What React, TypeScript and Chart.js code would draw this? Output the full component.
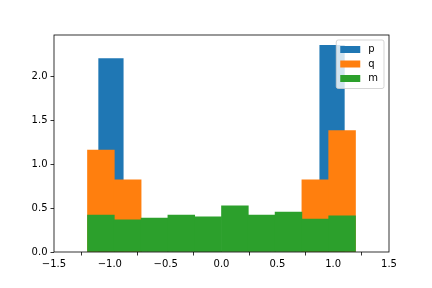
import React, { useEffect, useRef } from "react";
import { Chart, registerables } from "chart.js";

Chart.register(...registerables);

const seriesLabels = ["p", "q", "m"];
const seriesColors = ["#1f77b4", "#ff7f0e", "#2ca02c"];

// histogram bin centres (p: 10 bins over [-1.1, 1.1]; q & m: 10 bins over [-1.2, 1.2])
const pBinCenters = [-0.99, -0.77, -0.55, -0.33, -0.11, 0.11, 0.33, 0.55, 0.77, 0.99];
const qmBinCenters = [-1.08, -0.84, -0.6, -0.36, -0.12, 0.12, 0.36, 0.6, 0.84, 1.08];

// densities
const pDensity = [2.2, 0, 0, 0, 0, 0, 0, 0, 0, 2.35];
const qDensity = [1.16, 0.82, 0, 0, 0, 0, 0, 0, 0.82, 1.38];
const mDensity = [0.42, 0.365, 0.385, 0.42, 0.4, 0.525, 0.42, 0.455, 0.375, 0.41];

const xMin = -1.5;
const xMax = 1.5;
const yMin = 0;
const yMax = 2.4675;
const tickStep = 0.5;

function fmt(v: number): string {
  if (Math.abs(v) < 1e-9) v = 0;
  const s = Math.abs(v).toFixed(1);
  return v < 0 ? "\u2212" + s : s;
}

const framePlugin = {
  id: "frame",
  afterDatasetsDraw(chart: any) {
    const { ctx, chartArea: a } = chart;
    ctx.save();
    ctx.strokeStyle = "#000";
    ctx.lineWidth = 0.8;
    ctx.strokeRect(a.left, a.top, a.right - a.left, a.bottom - a.top);
    ctx.restore();
  },
};

const legendPlugin = {
  id: "mplLegend",
  afterDraw(chart: any) {
    const { ctx, chartArea: a } = chart;
    const ds = chart.data.datasets;
    const fs = 10;
    const pad = 4;
    const handleLen = 20;
    const handleH = 7;
    const textPad = 8;
    const rowH = 14.5;
    ctx.save();
    ctx.font = `${fs}px "DejaVu Sans"`;
    let maxW = 0;
    ds.forEach((d: any) => {
      maxW = Math.max(maxW, ctx.measureText(d.label).width);
    });
    const w = pad * 2 + handleLen + textPad + maxW + 2;
    const h = pad * 2 + rowH * ds.length - 3;
    const x = a.right - 5 - w;
    const y = a.top + 5;
    const r = 2;
    ctx.beginPath();
    ctx.moveTo(x + r, y);
    ctx.lineTo(x + w - r, y);
    ctx.quadraticCurveTo(x + w, y, x + w, y + r);
    ctx.lineTo(x + w, y + h - r);
    ctx.quadraticCurveTo(x + w, y + h, x + w - r, y + h);
    ctx.lineTo(x + r, y + h);
    ctx.quadraticCurveTo(x, y + h, x, y + h - r);
    ctx.lineTo(x, y + r);
    ctx.quadraticCurveTo(x, y, x + r, y);
    ctx.closePath();
    ctx.fillStyle = "rgba(255,255,255,0.8)";
    ctx.fill();
    ctx.strokeStyle = "rgba(204,204,204,0.8)";
    ctx.lineWidth = 1;
    ctx.stroke();
    ds.forEach((d: any, i: number) => {
      const cy = y + pad + 5.5 + i * rowH;
      ctx.fillStyle = d.backgroundColor;
      ctx.fillRect(x + pad, cy - handleH / 2, handleLen, handleH);
      ctx.fillStyle = "#000";
      ctx.textBaseline = "middle";
      ctx.textAlign = "left";
      ctx.fillText(d.label, x + pad + handleLen + textPad, cy);
    });
    ctx.restore();
  },
};

export default function App() {
  const ref = useRef<HTMLCanvasElement | null>(null);

  useEffect(() => {
    if (!ref.current) return;
    Chart.defaults.font.family = "DejaVu Sans";
    Chart.defaults.font.size = 10;
    Chart.defaults.color = "#000";

    const toPts = (xs: number[], ys: number[]) => xs.map((x, i) => ({ x, y: ys[i] }));

    const barCommon = {
      barPercentage: 1,
      categoryPercentage: 1,
      grouped: false,
      borderWidth: 0,
    };

    const chart = new Chart(ref.current, {
      type: "bar",
      data: {
        datasets: [
          {
            label: seriesLabels[0],
            data: toPts(pBinCenters, pDensity),
            backgroundColor: seriesColors[0],
            xAxisID: "x",
            order: 3,
            ...barCommon,
          },
          {
            label: seriesLabels[1],
            data: toPts(qmBinCenters, qDensity),
            backgroundColor: seriesColors[1],
            xAxisID: "x2",
            order: 2,
            ...barCommon,
          },
          {
            label: seriesLabels[2],
            data: toPts(qmBinCenters, mDensity),
            backgroundColor: seriesColors[2],
            xAxisID: "x2",
            order: 1,
            ...barCommon,
          },
        ] as any,
      },
      options: {
        animation: false,
        responsive: false,
        maintainAspectRatio: false,
        layout: { padding: { left: 0, right: 43, top: 35, bottom: 0 } },
        plugins: {
          legend: { display: false },
          tooltip: { enabled: false },
        },
        scales: {
          x: {
            type: "linear",
            position: "bottom",
            min: xMin,
            max: xMax,
            offset: false,
            border: { display: false },
            grid: {
              drawOnChartArea: false,
              drawTicks: true,
              tickLength: 3.5,
              tickColor: "#000",
              tickWidth: 0.8,
            },
            ticks: {
              stepSize: tickStep,
              includeBounds: false,
              padding: 3,
              maxRotation: 0,
              autoSkip: false,
              color: "#000",
              callback: (v: any) => fmt(Number(v)),
            },
            afterFit: (s: any) => {
              s.height = 36;
            },
          },
          x2: {
            type: "linear",
            display: false,
            min: xMin,
            max: xMax,
            offset: false,
            ticks: { stepSize: tickStep, includeBounds: false },
          },
          y: {
            type: "linear",
            min: yMin,
            max: yMax,
            border: { display: false },
            grid: {
              drawOnChartArea: false,
              drawTicks: true,
              tickLength: 3.5,
              tickColor: "#000",
              tickWidth: 0.8,
            },
            ticks: {
              stepSize: tickStep,
              includeBounds: false,
              padding: 3,
              color: "#000",
              callback: (v: any) => fmt(Number(v)),
            },
            afterFit: (s: any) => {
              s.width = 54;
            },
          },
        },
      } as any,
      plugins: [framePlugin, legendPlugin],
    });
    return () => chart.destroy();
  }, []);

  return (
    <div style={{ position: "fixed", left: 0, top: 0, width: 432, height: 288, background: "#fff" }}>
      <canvas ref={ref} width={432} height={288} />
    </div>
  );
}
